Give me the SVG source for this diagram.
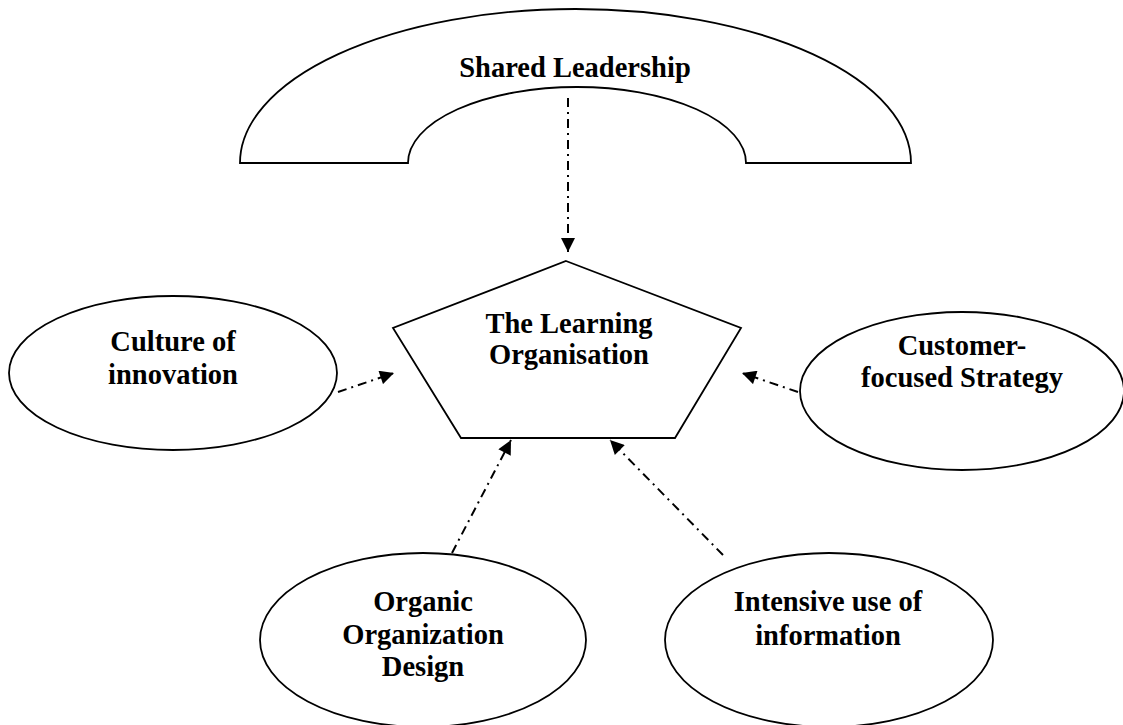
<svg xmlns="http://www.w3.org/2000/svg" width="1123" height="725" viewBox="0 0 1123 725">
  <style>
    .shape { fill: #fff; stroke: #000; stroke-width: 1.8; }
    .label { font-family: "Liberation Serif", "Times New Roman", serif; font-weight: bold; font-size: 28.5px; fill: #000; text-anchor: middle; }
    .link { fill: none; stroke: #000; stroke-width: 2; stroke-dasharray: 9 5 2 5; }
  </style>
  <defs>
    <marker id="head" viewBox="0 0 10 10" refX="10" refY="5" markerWidth="15" markerHeight="14" markerUnits="userSpaceOnUse" orient="auto">
      <path d="M0,0 L10,5 L0,10 Z" fill="#000"/>
    </marker>
  </defs>
  <rect width="1123" height="725" fill="#fff"/>

  <!-- arch -->
  <g id="shared-leadership">
    <path class="shape" d="M240,163 A335.5,154 0 0 1 911,163 L746,163 A169,76 0 0 0 408,163 Z"/>
    <text class="label" x="575" y="77">Shared Leadership</text>
  </g>

  <!-- centre pentagon -->
  <g id="learning-organisation">
    <polygon class="shape" points="566,261 741,328 675,438 461,438 393,328"/>
    <text class="label" x="569" y="333">The Learning</text>
    <text class="label" x="569" y="364">Organisation</text>
  </g>

  <g id="culture">
    <ellipse class="shape" cx="173" cy="373" rx="164" ry="77"/>
    <text class="label" x="173" y="351">Culture of</text>
    <text class="label" x="173" y="384">innovation</text>
  </g>

  <g id="customer">
    <ellipse class="shape" cx="962" cy="391" rx="162" ry="79"/>
    <text class="label" x="962" y="355">Customer-</text>
    <text class="label" x="962" y="387">focused Strategy</text>
  </g>

  <g id="organic">
    <ellipse class="shape" cx="423" cy="640" rx="163" ry="87"/>
    <text class="label" x="423" y="611">Organic</text>
    <text class="label" x="423" y="644">Organization</text>
    <text class="label" x="423" y="676">Design</text>
  </g>

  <g id="intensive">
    <ellipse class="shape" cx="829" cy="640" rx="164" ry="87"/>
    <text class="label" x="828" y="611">Intensive use of</text>
    <text class="label" x="828" y="645">information</text>
  </g>

  <!-- connectors -->
  <g id="connectors">
    <line class="link" x1="568" y1="98" x2="568" y2="252" marker-end="url(#head)"/>
    <line class="link" x1="338" y1="392" x2="394" y2="373" marker-end="url(#head)"/>
    <line class="link" x1="798" y1="392" x2="742" y2="373" marker-end="url(#head)"/>
    <line class="link" x1="452" y1="553" x2="511" y2="440" marker-end="url(#head)"/>
    <line class="link" x1="723" y1="555" x2="610" y2="440" marker-end="url(#head)"/>
  </g>
</svg>
